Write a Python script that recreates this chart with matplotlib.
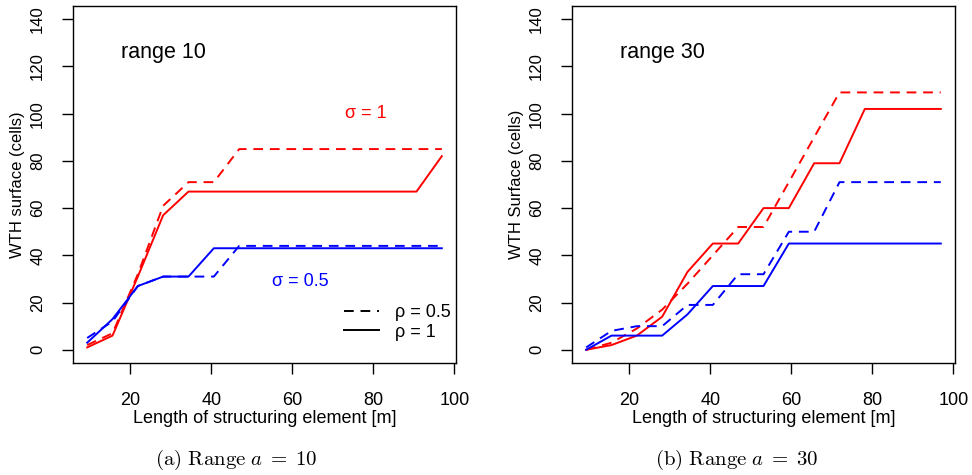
import numpy as np
import matplotlib
matplotlib.use('Agg')
import matplotlib.pyplot as plt
from matplotlib.lines import Line2D

plt.rcParams['font.family'] = ['Liberation Sans', 'DejaVu Sans']
plt.rcParams['mathtext.fontset'] = 'cm'

# structuring element length [m]
length = [9.375, 15.625, 21.875, 28.125, 34.375, 40.625, 46.875, 53.125,
          59.375, 65.625, 71.875, 78.125, 84.375, 90.625, 96.875]

# range 10
r10_s1_rho1 = [1, 6, 31, 57, 67, 67, 67, 67, 67, 67, 67, 67, 67, 67, 82]
r10_s1_rho05 = [2, 7, 32, 61, 71, 71, 85, 85, 85, 85, 85, 85, 85, 85, 85]
r10_s05_rho1 = [3, 13, 27, 31, 31, 43, 43, 43, 43, 43, 43, 43, 43, 43, 43]
r10_s05_rho05 = [5, 12, 27, 31, 31, 31, 44, 44, 44, 44, 44, 44, 44, 44, 44]

# range 30
r30_s1_rho1 = [0, 2, 6, 14, 33, 45, 45, 60, 60, 79, 79, 102, 102, 102, 102]
r30_s1_rho05 = [0, 3, 9, 17, 28, 40, 52, 52, 71, 90, 109, 109, 109, 109, 109]
r30_s05_rho1 = [0, 6, 6, 6, 15, 27, 27, 27, 45, 45, 45, 45, 45, 45, 45]
r30_s05_rho05 = [1, 8, 10, 10, 19, 19, 32, 32, 50, 50, 71, 71, 71, 71, 71]

panels = [
  dict(data=[r10_s1_rho1, r10_s1_rho05, r10_s05_rho1, r10_s05_rho05],
       title='range 10', ylabel='WTH surface (cells)',
       caption=r'$\mathrm{(a)\ Range}\ a\;=\;10$'),
  dict(data=[r30_s1_rho1, r30_s1_rho05, r30_s05_rho1, r30_s05_rho05],
       title='range 30', ylabel='WTH Surface (cells)',
       caption=r'$\mathrm{(b)\ Range}\ a\;=\;30$'),
]

fig = plt.figure(figsize=(9.72, 4.75), dpi=100)
lefts = [73 / 972, 572 / 972]
dash = (5, 3.5)

for i, p in enumerate(panels):
  ax = fig.add_axes([lefts[i], 1 - 363 / 475, 383 / 972, 357 / 475])
  s1, s1d, s05, s05d = p['data']
  ax.plot(length, s1, color='#ff0000', lw=1.4)
  ax.plot(length, s1d, color='#ff0000', lw=1.4, dashes=dash)
  ax.plot(length, s05, color='#0000ff', lw=1.4)
  ax.plot(length, s05d, color='#0000ff', lw=1.4, dashes=dash)

  ax.set_xlim(5.875, 100.375)
  ax.set_ylim(-5.6, 145.6)
  ax.set_xticks([20, 40, 60, 80, 100])
  ax.set_yticks(np.arange(0, 141, 20))
  ax.tick_params(axis='x', direction='out', length=8, width=1, pad=13, labelsize=13)
  ax.tick_params(axis='y', direction='out', length=8, width=1, pad=12, labelsize=12)
  plt.setp(ax.get_yticklabels(), rotation=90, va='center')
  for sp in ax.spines.values():
    sp.set_linewidth(1)

  ax.set_xlabel('Length of structuring element [m]', fontsize=13)
  ax.xaxis.set_label_coords(0.5, -0.133)
  ax.set_ylabel(p['ylabel'], fontsize=12)
  ax.yaxis.set_label_coords(-0.125, 0.5)

  ax.text(17.8, 126, p['title'], fontsize=15.5, ha='left', va='center')

  # captions under each panel
  fig.text([236 / 972, 737 / 972][i], 1 - 460 / 475, p['caption'],
           fontsize=15, ha='center', va='center')

  if i == 0:
    ax.text(78, 100, 'σ = 1', color='#ff0000', fontsize=13, ha='center', va='center')
    ax.text(62, 29, 'σ = 0.5', color='#0000ff', fontsize=13, ha='center', va='center')
    handles = [Line2D([], [], color='black', lw=1.4, dashes=dash),
               Line2D([], [], color='black', lw=1.4)]
    ax.legend(handles, ['ρ = 0.5', 'ρ = 1'], frameon=False, fontsize=13,
              loc='upper left', bbox_to_anchor=(0.707, 0.165),
              borderpad=0, borderaxespad=0, handlelength=1.95,
              handletextpad=0.9, labelspacing=0.15)

fig.savefig('out.png', dpi=100)
